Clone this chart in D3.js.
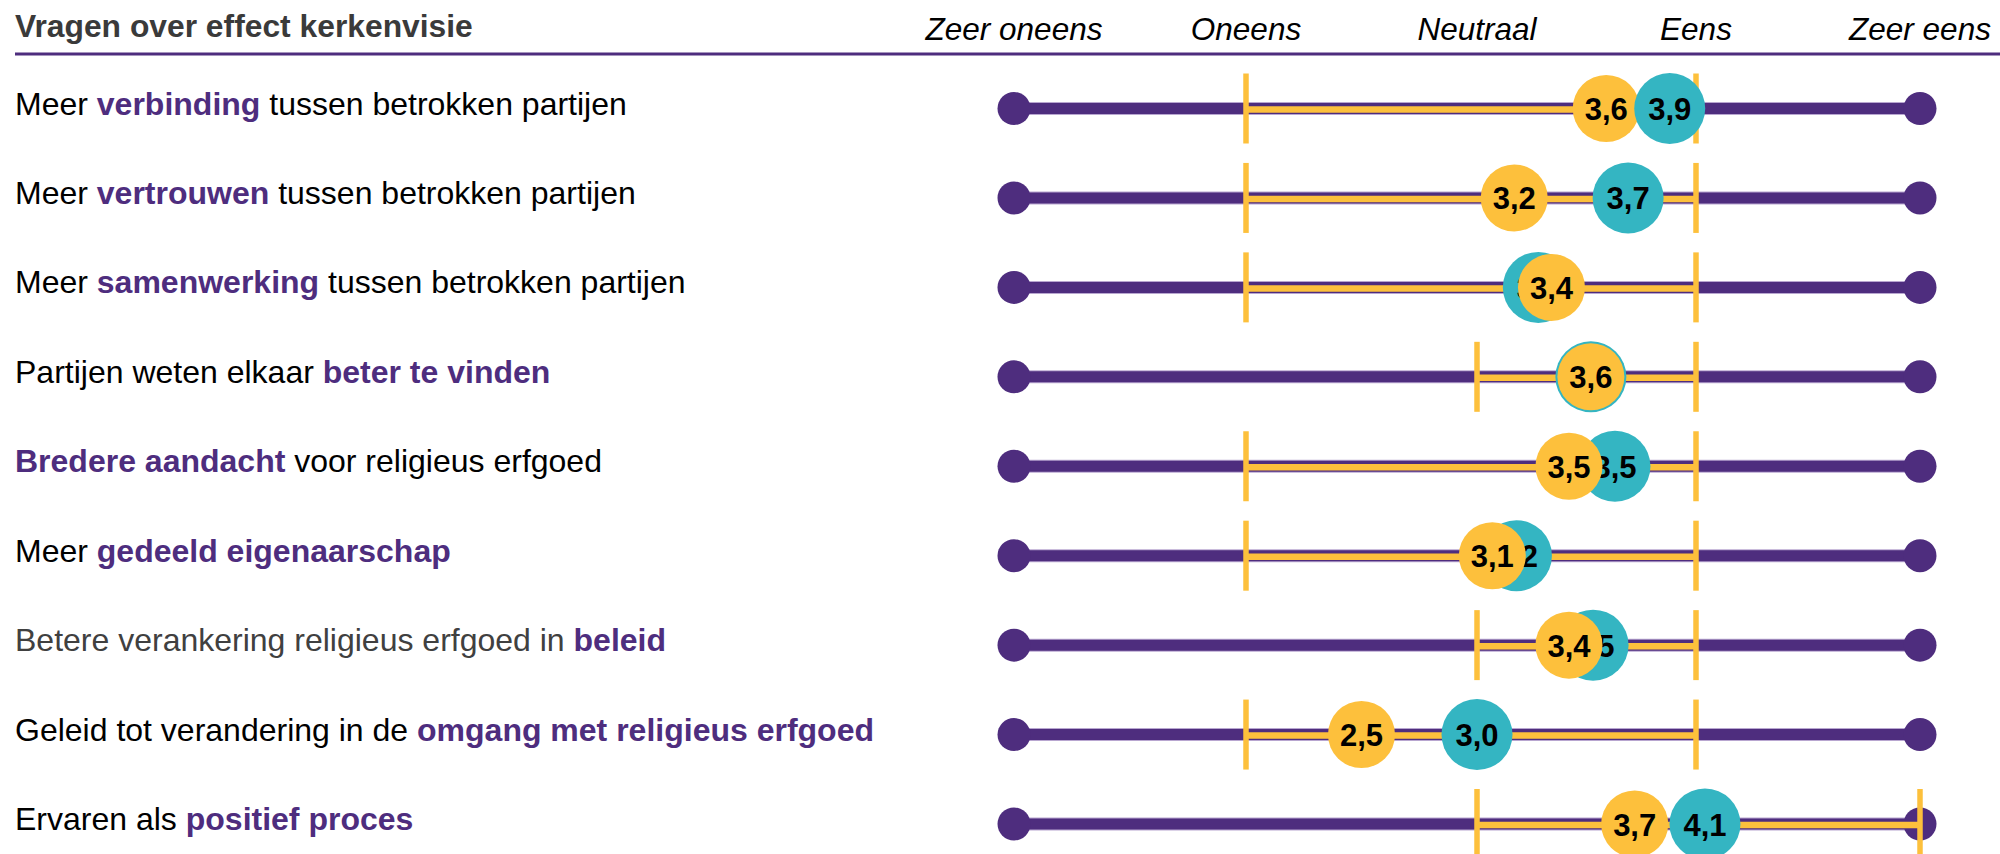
<!DOCTYPE html>
<html><head><meta charset="utf-8">
<script src="https://cdn.jsdelivr.net/npm/d3@7"></script>
<style>
html,body{margin:0;padding:0;background:#fff;}
svg{display:block;font-family:"Liberation Sans",Arial,sans-serif;}
</style></head>
<body>
<svg id="chart" width="2000" height="854"></svg>
<script>
const title = "Vragen over effect kerkenvisie";
const scaleLabels = ["Zeer oneens","Oneens","Neutraal","Eens","Zeer eens"];
const scaleValues = [1,2,3,4,5];

const rowPrefix = ["Meer ","Meer ","Meer ","Partijen weten elkaar ","","Meer ","Betere verankering religieus erfgoed in ","Geleid tot verandering in de ","Ervaren als "];
const rowHighlight = ["verbinding","vertrouwen","samenwerking","beter te vinden","Bredere aandacht","gedeeld eigenaarschap","beleid","omgang met religieus erfgoed","positief proces"];
const rowSuffix = [" tussen betrokken partijen"," tussen betrokken partijen"," tussen betrokken partijen",""," voor religieus erfgoed","","","",""];
const prefixGray = [false,false,false,false,false,false,true,false,false];

const rangeLow  = [2,2,2,3,2,2,3,2,3];
const rangeHigh = [4,4,4,4,4,4,4,4,5];

const orangeValues = [3.59,3.17,3.34,3.52,3.42,3.07,3.42,2.50,3.72];
const orangeLabels = ["3,6","3,2","3,4","3,6","3,5","3,1","3,4","2,5","3,7"];
const tealValues   = [3.88,3.69,3.28,3.52,3.63,3.18,3.53,3.00,4.04];
const tealLabels   = ["3,9","3,7","3,3","3,6","3,5","3,2","3,5","3,0","4,1"];
const tealOnTop    = [true,false,false,false,false,false,false,false,false];

const PURPLE = "#4e2d7e", ORANGE = "#fdc03c", TEAL = "#34b5c2";

const svg = d3.select("#chart");
const x = d3.scaleLinear().domain([1,2,3,4,5]).range([1014,1246,1477,1696,1920]);
const rows = d3.range(rowHighlight.length);
const y = d3.scalePoint().domain(rows).range([108.5,824]);

// header
svg.append("text").attr("x",15).attr("y",26).attr("dominant-baseline","central")
  .attr("font-size",31.8).attr("font-weight","bold").attr("fill","#3a3a3a").text(title);
svg.append("line").attr("x1",15).attr("x2",2000).attr("y1",54).attr("y2",54)
  .attr("stroke",PURPLE).attr("stroke-width",3);
svg.selectAll("text.scale").data(scaleValues).join("text").attr("class","scale")
  .attr("x",d=>x(d)).attr("y",29).attr("text-anchor","middle").attr("dominant-baseline","central")
  .attr("font-size",31.5).attr("font-style","italic").attr("fill","#000")
  .text((d,i)=>scaleLabels[i]);

// row labels
const lab = svg.selectAll("text.row").data(rows).join("text").attr("class","row")
  .attr("x",15).attr("y",d=>y(d)-5).attr("dominant-baseline","central").attr("font-size",32);
lab.append("tspan").attr("fill",d=>prefixGray[d]?"#404040":"#000").text(d=>rowPrefix[d]);
lab.append("tspan").attr("fill",PURPLE).attr("font-weight","bold").text(d=>rowHighlight[d]);
lab.append("tspan").attr("fill","#000").text(d=>rowSuffix[d]);

// base lines + end dots
const g = svg.append("g");
g.selectAll("line.base").data(rows).join("line")
  .attr("x1",x(1)).attr("x2",x(5)).attr("y1",d=>y(d)).attr("y2",d=>y(d))
  .attr("stroke","#b8a6d0").attr("stroke-width",13);
g.selectAll("line.base2").data(rows).join("line")
  .attr("x1",x(1)).attr("x2",x(5)).attr("y1",d=>y(d)).attr("y2",d=>y(d))
  .attr("stroke",PURPLE).attr("stroke-width",11);
g.selectAll("circle.endL").data(rows).join("circle").attr("cx",x(1)).attr("cy",d=>y(d)).attr("r",16.5).attr("fill",PURPLE);
g.selectAll("circle.endR").data(rows).join("circle").attr("cx",x(5)).attr("cy",d=>y(d)).attr("r",16.5).attr("fill",PURPLE);

// range
g.selectAll("line.range").data(rows).join("line")
  .attr("x1",d=>x(rangeLow[d])).attr("x2",d=>x(rangeHigh[d]))
  .attr("y1",d=>y(d)+1).attr("y2",d=>y(d)+1)
  .attr("stroke",ORANGE).attr("stroke-width",6.5);
g.selectAll("line.tickL").data(rows).join("line")
  .attr("x1",d=>x(rangeLow[d])).attr("x2",d=>x(rangeLow[d]))
  .attr("y1",d=>y(d)-35).attr("y2",d=>y(d)+35)
  .attr("stroke",ORANGE).attr("stroke-width",5.5);
g.selectAll("line.tickH").data(rows).join("line")
  .attr("x1",d=>x(rangeHigh[d])).attr("x2",d=>x(rangeHigh[d]))
  .attr("y1",d=>y(d)-35).attr("y2",d=>y(d)+35)
  .attr("stroke",ORANGE).attr("stroke-width",5.5);

// markers per row, z-order per row
rows.forEach(i => {
  const rg = g.append("g");
  const drawTeal = () => {
    rg.append("circle").attr("cx",x(tealValues[i])).attr("cy",y(i)).attr("r",35.5).attr("fill",TEAL);
    rg.append("text").attr("x",x(tealValues[i])).attr("y",y(i)+1).attr("text-anchor","middle")
      .attr("dominant-baseline","central").attr("font-size",31).attr("font-weight","bold")
      .attr("fill","#000").text(tealLabels[i]);
  };
  const drawOrange = () => {
    rg.append("circle").attr("cx",x(orangeValues[i])).attr("cy",y(i)).attr("r",33.5).attr("fill",ORANGE);
    rg.append("text").attr("x",x(orangeValues[i])).attr("y",y(i)+1).attr("text-anchor","middle")
      .attr("dominant-baseline","central").attr("font-size",31).attr("font-weight","bold")
      .attr("fill","#000").text(orangeLabels[i]);
  };
  if (tealOnTop[i]) { drawOrange(); drawTeal(); } else { drawTeal(); drawOrange(); }
});
</script>
</body></html>
